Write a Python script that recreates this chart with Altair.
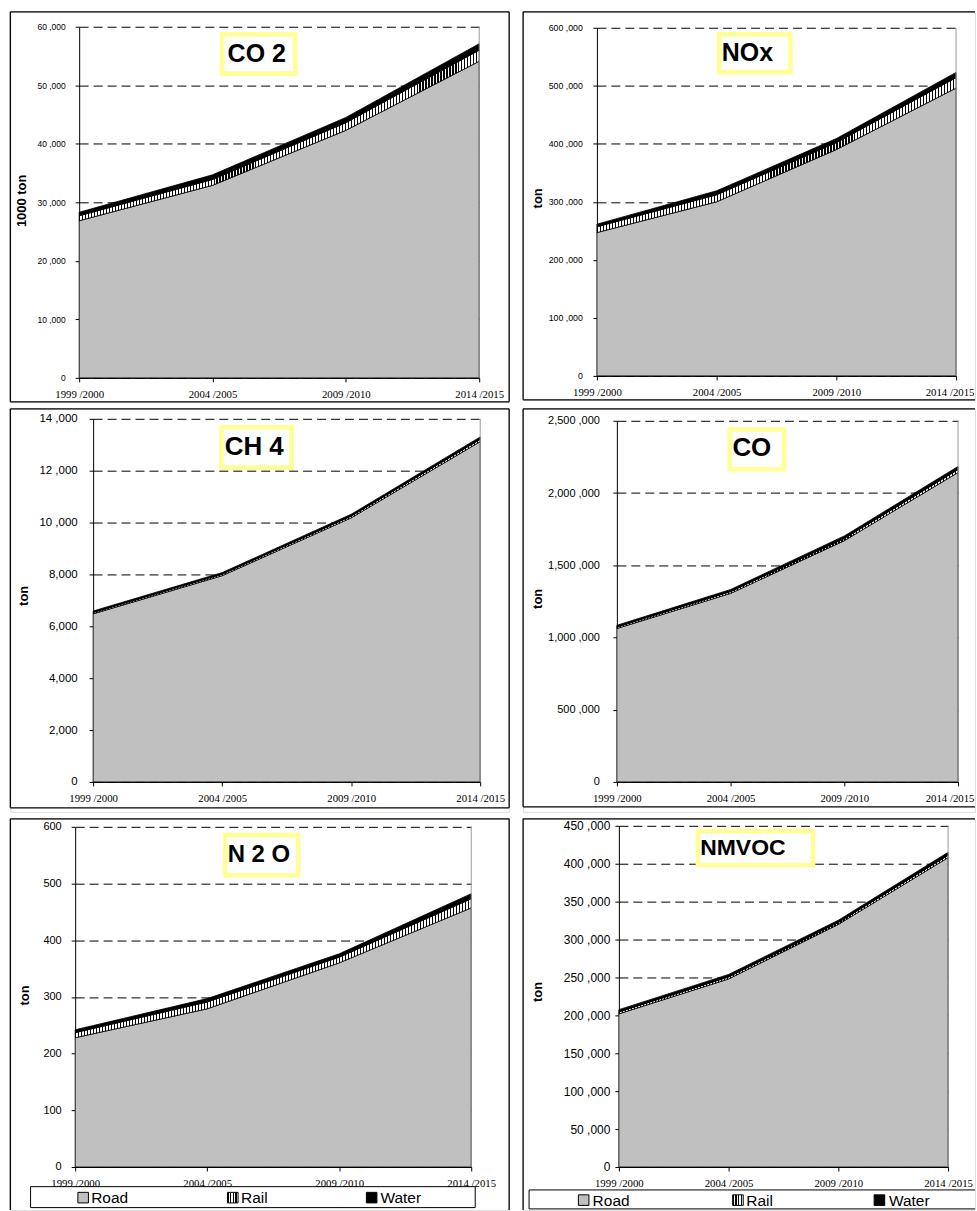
import altair as alt
import pandas as pd

# ---------------- data ----------------
periods = ["1999 /2000", "2004 /2005", "2009 /2010", "2014 /2015"]
modes = ["Road", "Rail", "Water"]

titles = ["CO 2", "NOx", "CH 4", "CO", "N 2 O", "NMVOC"]
y_titles = ["1000 ton", "ton", "ton", "ton", "ton", "ton"]
y_max = [60000, 600000, 14000, 2500000, 600, 450000]
y_step = [10000, 100000, 2000, 500000, 100, 50000]

co2_road = [26850, 32900, 42300, 54100]
co2_rail = [850, 1000, 1300, 1900]
co2_water = [600, 800, 900, 1100]

nox_road = [247000, 300000, 390000, 496000]
nox_rail = [10000, 12000, 12000, 18000]
nox_water = [4500, 7000, 7000, 9000]

ch4_road = [6480, 7950, 10180, 13120]
ch4_rail = [50, 55, 65, 85]
ch4_water = [60, 65, 75, 95]

co_road = [1062000, 1305000, 1670000, 2142000]
co_rail = [10000, 12000, 15000, 20000]
co_water = [12000, 15000, 18000, 22000]

n2o_road = [228, 279, 360, 457]
n2o_rail = [9, 12, 10, 16]
n2o_water = [5, 6, 6, 9]

nmvoc_road = [202000, 248000, 320000, 408000]
nmvoc_rail = [2500, 2500, 2500, 3000]
nmvoc_water = [3000, 3500, 3000, 4000]

series = [
    (co2_road, co2_rail, co2_water),
    (nox_road, nox_rail, nox_water),
    (ch4_road, ch4_rail, ch4_water),
    (co_road, co_rail, co_water),
    (n2o_road, n2o_rail, n2o_water),
    (nmvoc_road, nmvoc_rail, nmvoc_water),
]

# ---------------- layout ----------------
# Each panel view = its framed box (W x H); the plot area sits at offset (m, t) with size w x h.
# Frame segments are in view coordinates; title box / text / legend in plot coordinates.
layout = [
    dict(W=500, H=391, m=69, t=15, w=401, h=352,
         frame=[(0, 0, 0, 391), (500, 500, 0, 391), (0, 500, 0, 0), (0, 500, 391, 391)],
         tbox=(143.3, 216.7, 7.7, 47), ttxt=(178, 27), tfs=25,
         ylfs=8.5, ylp=10, tx=-58, ty=-2, lastoff=0),
    dict(W=453, H=389, m=74, t=16, w=360, h=349,
         frame=[(0, 0, 0, 389), (0, 453, 0, 0), (0, 453, 389, 389)],
         tbox=(122.6, 194, 6.6, 44.4), ttxt=(150.9, 25.7), tfs=25,
         ylfs=8.8, ylp=10.6, tx=-60, ty=-4, lastoff=-6.5),
    dict(W=500, H=404, m=83, t=10, w=388, h=364,
         frame=[(0, 0, 0, 400), (500, 500, 0, 400), (0, 500, 0, 0), (0, 500, 400, 400)],
         tbox=(128.6, 199, 8.6, 49), ttxt=(161.5, 28.7), tfs=26,
         ylfs=11.5, ylp=12, tx=-70, ty=-5, lastoff=0),
    dict(W=453, H=404, m=94, t=12, w=342, h=362,
         frame=[(0, 0, 0, 399), (0, 453, 0, 0), (0, 453, 399, 399)],
         tbox=(113, 167.6, 8.6, 48.6), ttxt=(135.3, 27.7), tfs=26,
         ylfs=11, ylp=13.5, tx=-80, ty=-3, lastoff=-8.5),
    dict(W=500, H=392, m=65, t=8, w=397, h=341,
         frame=[(0, 0, 0, 392), (500, 500, 0, 392), (0, 500, 0, 0)],
         tbox=(150.3, 223.6, 8.3, 48.6), ttxt=(184.2, 28), tfs=24,
         ylfs=11, ylp=10, tx=-51, ty=-2, lastoff=0,
         legbox=[(-44.7, -44.7, 360.7, 381.7), (401, 401, 360.7, 381.7),
                 (-44.7, 401, 360.7, 360.7), (-44.7, 401, 381.7, 381.7)],
         leg=dict(y=371.7, sym=[8, 158, 297.2], txt=[16, 166.3, 306])),
    dict(W=453, H=392, m=96, t=7, w=330, h=342,
         frame=[(0, 0, 0, 392), (0, 453, 0, 0)],
         tbox=(79.3, 194.6, 5.3, 39.3), ttxt=(124.3, 22.3), tfs=23,
         ylfs=12, ylp=5, tx=-82, ty=-5, lastoff=0,
         legbox=[(-90, -90, 365, 384), (-90, 357, 365, 365), (-90, 357, 384, 384)],
         leg=dict(y=375.2, sym=[-35.3, 119.4, 261.2], txt=[-26.3, 127.7, 270.7])),
]

FILLS = {"Road": "#c0c0c0", "Water": "black"}


def hatch_stops(width_px, period=3.0, dark=0.4):
    n = max(1, round(width_px / period))
    stops = []
    for i in range(n):
        a = i / n
        b = (i + dark) / n
        c = (i + 1) / n
        stops += [(a, "black"), (b, "black"), (b, "white"), (c, "white")]
    return stops


def hatch_expr(width_px):
    s = ",".join("{offset:%.5f,color:'%s'}" % (o, col) for o, col in hatch_stops(width_px))
    return "{gradient:'linear',x1:0,y1:0,x2:1,y2:0,stops:[%s]}" % s


def hatch_value(width_px, period):
    return {"gradient": "linear", "x1": 0, "y1": 0, "x2": 1, "y2": 0,
            "stops": [{"offset": round(o, 5), "color": c} for o, c in hatch_stops(width_px, period, 0.45)]}


LABEL_EXPR = ("datum.value >= 10000 ? format(floor(datum.value / 1000), ',') + ' ,000' "
              ": format(datum.value, ',')")


def segs(one, lst, dx=0, dy=0, width=1.3, color="black"):
    out = []
    for (x0, x1, y0, y1) in lst:
        out.append(alt.Chart(one).mark_rule(color=color, strokeWidth=width).encode(
            x=alt.value(x0 + dx), x2=alt.value(x1 + dx), y=alt.value(y0 + dy), y2=alt.value(y1 + dy)))
    return out


def panel(i):
    road, rail, water = series[i]
    L = layout[i]
    W, H, m, t, w, h = L["W"], L["H"], L["m"], L["t"], L["w"], L["h"]
    rows = []
    for j, p in enumerate(periods):
        for k, (md, arr) in enumerate(zip(modes, [road, rail, water])):
            rows.append({"period": p, "mode": md, "idx": k, "value": arr[j]})
    df = pd.DataFrame(rows)
    one = pd.DataFrame({"t": [titles[i]]})

    yaxis = alt.Axis(
        values=list(range(0, y_max[i] + 1, y_step[i])), labelExpr=LABEL_EXPR, offset=-m,
        labelFont="Liberation Sans", labelFontSize=L["ylfs"], labelColor="black",
        labelPadding=L["ylp"], tickSize=4, tickColor="black", tickWidth=1,
        domainColor="black", domainWidth=1, grid=True, gridColor="black",
        gridDash=[9, 5], gridWidth=1, title=y_titles[i], titleFont="Liberation Sans",
        titleFontSize=13, titleFontWeight="bold", titleColor="black",
        titleX=L["tx"], titleY=t + h / 2 + L["ty"], titleAngle=270, titleAlign="center",
        titleBaseline="middle")
    xkw = dict(labelFont="Liberation Serif", labelFontSize=10.8, labelColor="black", labelAngle=0,
               labelPadding=7, tickSize=4, tickColor="black", domainColor="black", domainWidth=1,
               grid=False, title=None, labelOverlap=False, offset=-(H - t - h))
    if L["lastoff"]:
        xkw["labelOffset"] = {"condition": {"test": "datum.value === '%s'" % periods[-1],
                                            "value": L["lastoff"]}, "value": 0}
    xaxis = alt.Axis(**xkw)

    area = alt.Chart(df).transform_stack(
        stack="value", groupby=["period"], sort=[alt.SortField("idx", order="ascending")],
        as_=["v0", "v1"]
    ).mark_area(stroke="black", strokeWidth=0.8, opacity=1, fillOpacity=1, interpolate="linear").encode(
        x=alt.X("period:O", sort=periods, scale=alt.Scale(type="point", padding=0, range=[m, m + w]),
                axis=xaxis),
        y=alt.Y("v1:Q", scale=alt.Scale(domain=[0, y_max[i]], nice=False, zero=True, range=[t + h, t]),
                axis=yaxis),
        y2="v0:Q",
        color=alt.Color("mode:N", scale=alt.Scale(
            domain=modes, range=[FILLS["Road"], alt.ExprRef(expr=hatch_expr(w)), FILLS["Water"]]),
            legend=None),
    )

    layers = segs(one, L["frame"])
    edge = alt.Chart(one).mark_rule(color="#999", strokeWidth=1).encode(
        x=alt.value(m + w), y=alt.value(t), y2=alt.value(t + h))
    bx0, bx1, by0, by1 = L["tbox"]
    tbox = alt.Chart(one).mark_rect(fill="white", stroke="#ffff99", strokeWidth=4.7).encode(
        x=alt.value(bx0 + m), x2=alt.value(bx1 + m), y=alt.value(by0 + t), y2=alt.value(by1 + t))
    ttext = alt.Chart(one).mark_text(
        font="Liberation Sans", fontWeight="bold", fontSize=L["tfs"], color="black",
        align="center", baseline="middle").encode(
        text="t:N", x=alt.value(L["ttxt"][0] + m), y=alt.value(L["ttxt"][1] + t))
    layers += [area, edge, tbox, ttext]

    if "leg" in L:
        layers += segs(one, L["legbox"], dx=m, dy=t, width=1)
        lg = L["leg"]
        for k, md in enumerate(modes):
            mdf = pd.DataFrame({"m": [md]})
            fill = hatch_value(10.6, 2.6) if md == "Rail" else FILLS[md]
            layers.append(alt.Chart(mdf).mark_square(size=112, stroke="black", strokeWidth=1, opacity=1).encode(
                x=alt.value(lg["sym"][k] + m), y=alt.value(lg["y"] + t), fill=alt.value(fill)))
            layers.append(alt.Chart(mdf).mark_text(
                font="Liberation Sans", fontSize=15.5, color="black", align="left", baseline="middle").encode(
                text="m:N", x=alt.value(lg["txt"][k] + m), y=alt.value(lg["y"] + t + 0.5)))
    return alt.layer(*layers).properties(width=W, height=H)


panels = [panel(i) for i in range(6)]

chart = alt.concat(*panels, columns=2, bounds="flush",
                   spacing={"row": 7, "column": 14}).resolve_scale(
    color="independent", x="independent", y="independent"
).properties(
    padding={"left": 8.35, "top": 8.35, "right": 0, "bottom": 0}
).configure_view(stroke=None).configure(background="white")

chart.save("out.html", embed_options={"renderer": "svg", "actions": False})
